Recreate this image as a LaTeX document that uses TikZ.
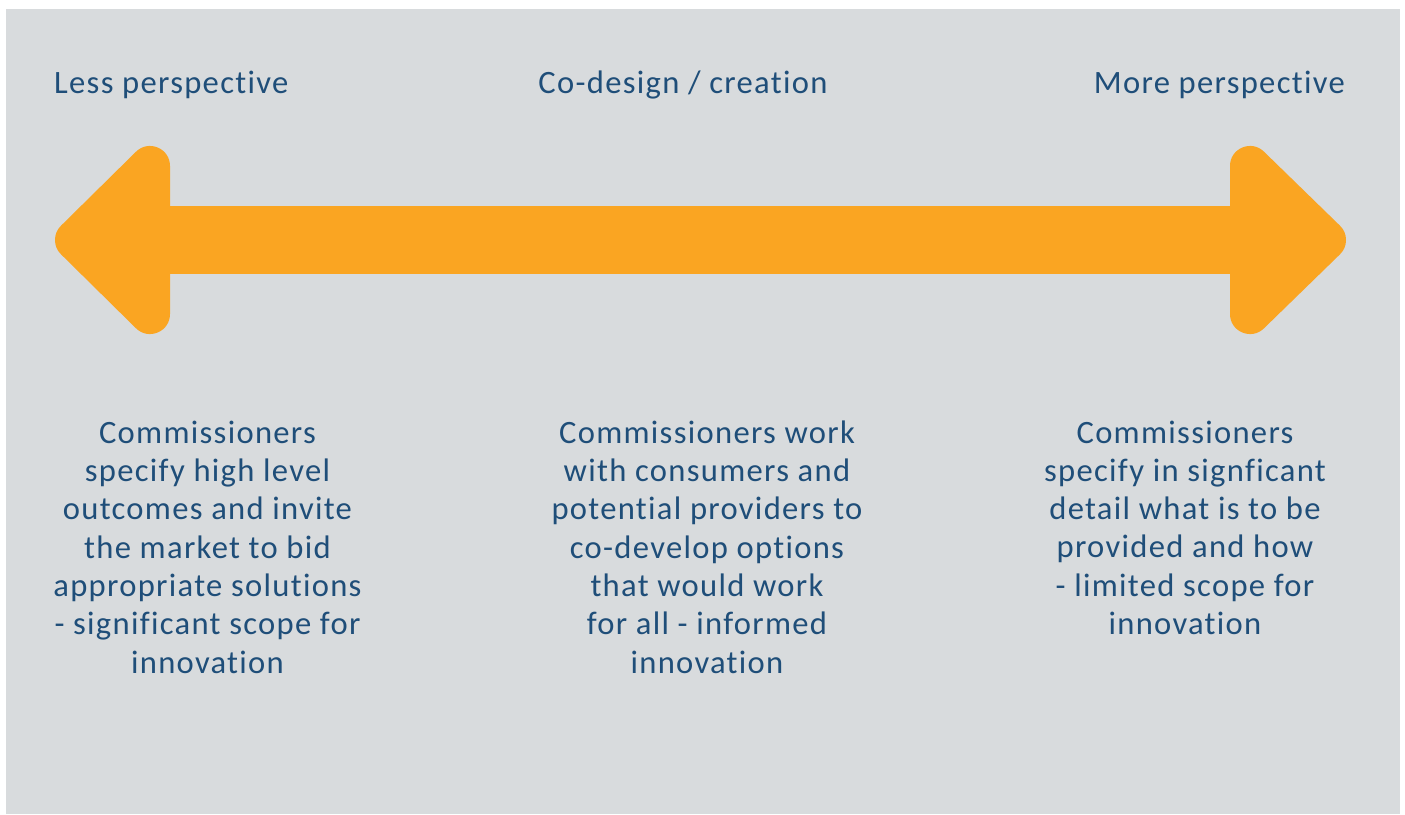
\documentclass[tikz,border=0pt]{standalone}
\usepackage{fontspec}
\setmainfont{Carlito}[LetterSpace=4, Ligatures=NoCommon]
\definecolor{bggray}{RGB}{216,219,221}
\definecolor{arroworange}{RGB}{250,165,34}
\definecolor{textblue}{RGB}{31,78,121}

\begin{document}
\begin{tikzpicture}[x=1pt, y=-1pt,
    every node/.style={text=textblue, inner sep=0pt, font=\fontsize{32.6}{38.3}\selectfont},
    body/.style={align=center, anchor=base},
    head/.style={fill=arroworange, draw=arroworange, line width=40pt, line join=round}]
      % 背景
      \useasboundingbox (0,0) rectangle (1405,814);
      \fill [bggray](6,9) rectangle (1400,814);

      % 矢印
      \fill [arroworange](150,206) rectangle (1250,274);
      \filldraw [head](75,240) -- (150,166) -- (150,314) -- cycle;
      \filldraw [head](1326,240) -- (1250,166) -- (1250,314) -- cycle;

      % 見出し
      \node [anchor=base west] (less) at (54,93) {Less perspective};
      \node [anchor=base] (codesign) at (683,93) {Co-design / creation};
      \node [anchor=base east] (more) at (1345,93) {More perspective};

      % 説明 (base = 最終行)
      \node [body] (lessbody) at (207.5,673) {Commissioners\\specify high level\\outcomes and invite\\the market to bid\\appropriate solutions\\- significant scope for\\innovation};
      \node [body] (codesignbody) at (707,673) {Commissioners work\\with consumers and\\potential providers to\\co-develop options\\that would work\\for all - informed\\innovation};
      \node [body] (morebody) at (1185,634.5) {Commissioners\\specify in signficant\\detail what is to be\\provided and how\\- limited scope for\\innovation};
    \end{tikzpicture}
\end{document}
